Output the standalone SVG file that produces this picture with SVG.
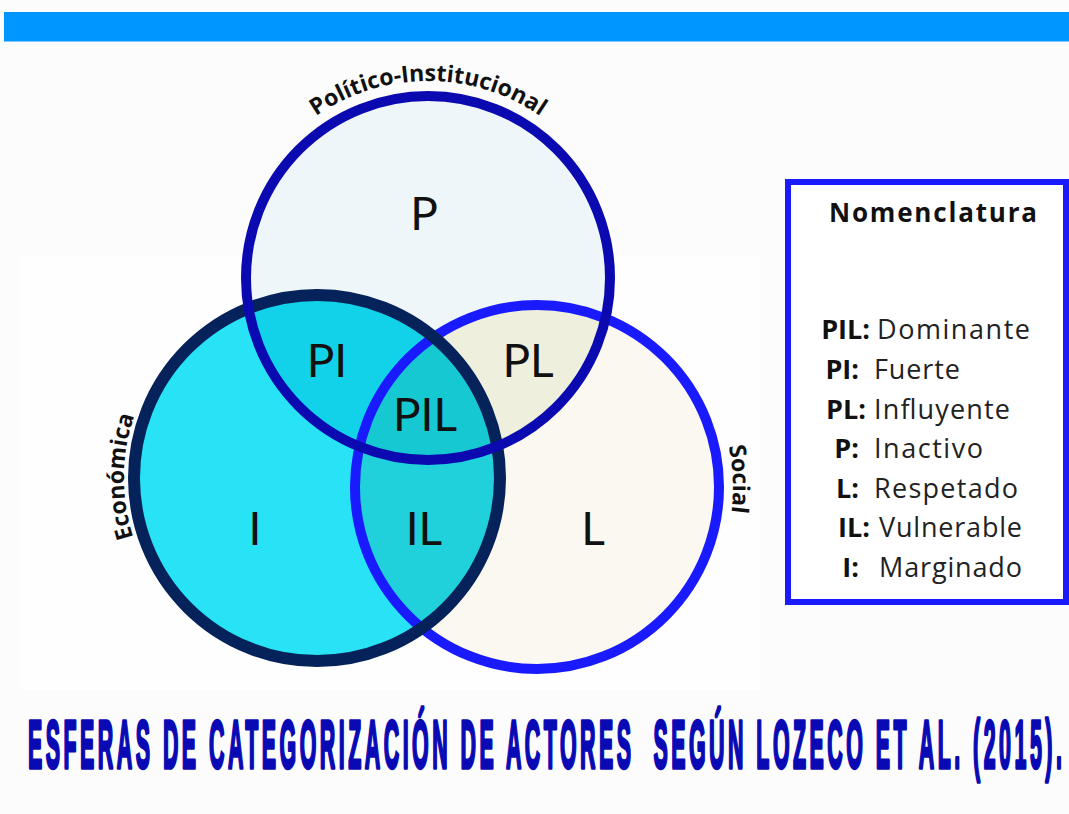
<svg xmlns="http://www.w3.org/2000/svg" width="1069" height="814" viewBox="0 0 1069 814">
<style>
.lbl{font-family:Lato,"Open Sans",sans-serif;font-size:46px;fill:#111;text-anchor:middle}
.arc{font-family:"Open Sans",Lato,sans-serif;font-weight:bold;font-size:23px;fill:#111}
.key{font-family:"Open Sans",Lato,sans-serif;font-weight:bold;font-size:27px;fill:#111;text-anchor:end}
.desc{font-family:"Open Sans",Lato,sans-serif;font-size:27px;fill:#222}
</style>
<defs>
<circle id="cT" cx="428" cy="278" r="182"/>
<circle id="cL" cx="317" cy="478" r="183"/>
<circle id="cR" cx="537" cy="487" r="182"/>
<clipPath id="clipT"><use href="#cT"/></clipPath>
<clipPath id="clipL"><use href="#cL"/></clipPath>
<path id="pTop" d="M 231 278 A 197 197 0 0 1 625 278"/>
<path id="pLeft" d="M 180.5 614.5 A 193 193 0 0 1 180.5 341.5"/>
<path id="pRight" d="M 675.6 348.4 A 196 196 0 0 1 675.6 625.6"/>
</defs>
<rect width="1069" height="814" fill="#fcfcfc"/>
<rect x="20" y="255" width="740" height="435" fill="#fefefe"/>
<rect x="4" y="12" width="1065" height="29" fill="#0096ff"/>
<rect x="4" y="41" width="1065" height="1" fill="#7cc8ff"/>

<g id="fills">
<use href="#cT" fill="#eef6f9"/>
<use href="#cL" fill="#27e3f5"/>
<use href="#cR" fill="#fbf8f1"/>
<use href="#cL" fill="#12d2ea" clip-path="url(#clipT)"/>
<use href="#cR" fill="#eef0dd" clip-path="url(#clipT)"/>
<use href="#cR" fill="#20d0da" clip-path="url(#clipL)"/>
<g clip-path="url(#clipT)"><use href="#cR" fill="#16c8d2" clip-path="url(#clipL)"/></g>
</g>

<g id="node-social"><use href="#cR" fill="none" stroke="#1a1aff" stroke-width="10"/>
<text class="arc"><textPath href="#pRight" startOffset="47.5%" text-anchor="middle">Social</textPath></text></g>
<g id="node-economica"><use href="#cL" fill="none" stroke="#05225a" stroke-width="12"/>
<text class="arc"><textPath href="#pLeft" startOffset="50.5%" text-anchor="middle">Económica</textPath></text></g>
<g id="node-politico"><use href="#cT" fill="none" stroke="#0a0ab0" stroke-width="10"/>
<text class="arc"><textPath href="#pTop" startOffset="50%" text-anchor="middle">Político-Institucional</textPath></text></g>

<g id="region-labels">
<text class="lbl" x="424" y="230">P</text>
<text class="lbl" x="327" y="377">PI</text>
<text class="lbl" x="528" y="377">PL</text>
<text class="lbl" x="425" y="431">PIL</text>
<text class="lbl" x="255" y="545">I</text>
<text class="lbl" x="424" y="545">IL</text>
<text class="lbl" x="593" y="545">L</text>
</g>

<g id="legend">
<rect x="788" y="182" width="278" height="420" fill="#ffffff" stroke="#1a1aff" stroke-width="6"/>
<text x="933" y="222" font-family="'Open Sans',Lato,sans-serif" font-weight="bold" font-size="26" fill="#111" text-anchor="middle" textLength="208">Nomenclatura</text>
<text class="key" x="870" y="339">PIL:</text><text class="desc" x="877" y="339" textLength="153">Dominante</text>
<text class="key" x="859" y="379">PI:</text><text class="desc" x="874" y="379" textLength="86">Fuerte</text>
<text class="key" x="866" y="419">PL:</text><text class="desc" x="874" y="419" textLength="136">Influyente</text>
<text class="key" x="859" y="458">P:</text><text class="desc" x="874" y="458" textLength="109">Inactivo</text>
<text class="key" x="859" y="498">L:</text><text class="desc" x="874" y="498" textLength="144">Respetado</text>
<text class="key" x="870" y="537">IL:</text><text class="desc" x="879" y="537" textLength="143">Vulnerable</text>
<text class="key" x="859" y="577">I:</text><text class="desc" x="879" y="577" textLength="143">Marginado</text>
</g>

<g id="title">
<text transform="translate(28,768) scale(0.31,1)" x="0" y="0" font-family="'Liberation Sans',Arial,sans-serif" font-weight="bold" font-size="69" fill="#0a0ab4" stroke="#0a0ab4" stroke-width="3.5" stroke-linejoin="round" textLength="3335" lengthAdjust="spacing">ESFERAS DE CATEGORIZACIÓN DE ACTORES&#160; SEGÚN LOZECO ET AL. (2015).</text>
</g>
</svg>
